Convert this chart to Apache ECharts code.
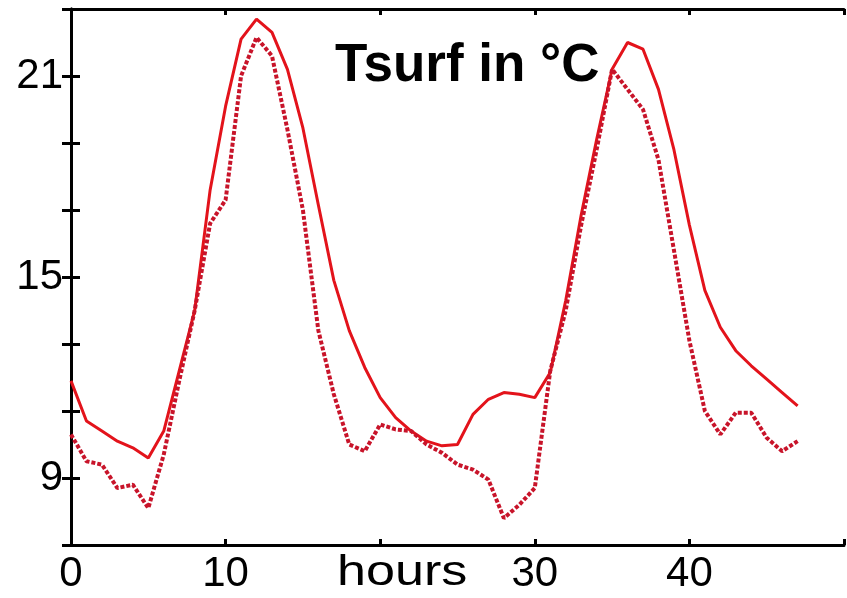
<!DOCTYPE html>
<html>
<head>
<meta charset="utf-8">
<script src="https://cdn.jsdelivr.net/npm/echarts@6/dist/echarts.min.js"></script>
<style>
html,body{margin:0;padding:0;background:#fff;}
#c{width:847px;height:598px;}
</style>
</head>
<body>
<div id="c"></div>
<script>
const hours = [0,1,2,3,4,5,6,7,8,9,10,11,12,13,14,15,16,17,18,19,20,21,22,23,24,25,26,27,28,29,30,31,32,33,34,35,36,37,38,39,40,41,42,43,44,45,46,47];
const tsurfSolid = [11.9,10.7,10.4,10.1,9.9,9.6,10.4,12.2,14.0,17.6,20.1,22.1,22.7,22.3,21.2,19.45,17.15,14.9,13.4,12.3,11.4,10.8,10.4,10.1,9.96,10.0,10.9,11.35,11.55,11.5,11.4,12.15,14.3,16.85,19.1,21.2,22.0,21.8,20.6,18.8,16.55,14.6,13.5,12.8,12.35,11.95,11.55,11.15];
const tsurfDotted = [10.3,9.5,9.4,8.7,8.8,8.1,9.7,11.9,14.0,16.6,17.3,21.0,22.15,21.6,19.4,17.0,13.4,11.5,10.0,9.8,10.6,10.45,10.4,10.0,9.75,9.4,9.25,8.95,7.8,8.2,8.7,12.2,14.0,16.55,18.8,21.2,20.6,20.0,18.5,15.8,13.1,11.0,10.3,10.95,10.95,10.2,9.8,10.1];
const yLabelValues = [9,15,21];
const xLabelValues = [0,10,30,40];
const titleText = 'Tsurf in °C';
const xAxisTitle = 'hours';

const chart = echarts.init(document.getElementById('c'), null, {renderer:'canvas'});
const font = 'Liberation Sans, Arial, Helvetica, sans-serif';
const axisLine = {show:true, lineStyle:{color:'#000', width:3}};
chart.setOption({
  animation:false,
  backgroundColor:'#fff',
  title:{text:titleText, left:330, top:35, textStyle:{fontFamily:font, fontWeight:'bold', fontSize:53, color:'#000'}},
  grid:{left:71, top:9, width:780, height:536, containLabel:false},
  xAxis:[{
    type:'value', min:0, max:50, interval:10, position:'bottom',
    axisLine, splitLine:{show:false},
    axisTick:{show:true, inside:true, length:6, lineStyle:{color:'#000', width:3}},
    axisLabel:{fontFamily:font, fontSize:42, color:'#000', margin:8,
      formatter:v => xLabelValues.includes(v) ? String(v) : ''}
  },{
    type:'value', min:0, max:50, interval:10, position:'top',
    axisLine, splitLine:{show:false},
    axisTick:{show:true, inside:true, length:6, lineStyle:{color:'#000', width:3}},
    axisLabel:{show:false}
  }],
  yAxis:[{
    type:'value', min:7, max:23, interval:2, position:'left',
    axisLine, splitLine:{show:false},
    axisTick:{show:true, inside:true, length:9, lineStyle:{color:'#000', width:3}},
    axisLabel:{fontFamily:font, fontSize:42, color:'#000', margin:8,
      formatter:v => yLabelValues.includes(v) ? String(v) : ''}
  },{
    type:'value', min:7, max:23, interval:2, position:'right',
    axisLine, splitLine:{show:false},
    axisTick:{show:true, inside:true, length:9, lineStyle:{color:'#000', width:3}},
    axisLabel:{show:false}
  }],
  graphic:[{
    type:'text', x:337, y:552, scaleX:1.24,
    style:{text:xAxisTitle, font:'42px ' + font, fill:'#000'}
  }],
  series:[{
    type:'line', name:'solid', showSymbol:false,
    data:hours.map((h,i)=>[h, tsurfSolid[i]]),
    lineStyle:{color:'#e3131b', width:3}
  },{
    type:'line', name:'dotted', showSymbol:false,
    data:hours.map((h,i)=>[h, tsurfDotted[i]]),
    lineStyle:{color:'#c8142a', width:4, type:[4,2]}
  }]
});
</script>
</body>
</html>
